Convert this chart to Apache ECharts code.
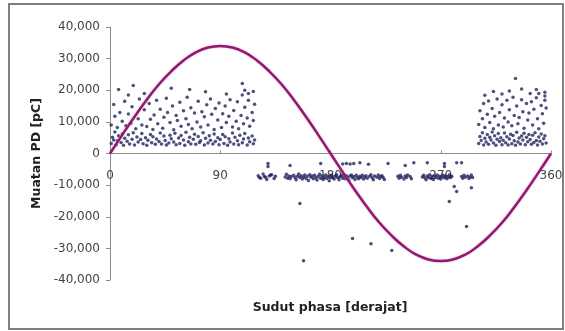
<!DOCTYPE html>
<html><head><meta charset="utf-8">
<script src="https://cdn.jsdelivr.net/npm/echarts@6/dist/echarts.min.js"></script>
<style>html,body{margin:0;padding:0;background:#fff}#c{width:565px;height:331px}</style>
</head><body><div id="c"></div>
<script>
// Phase-resolved PD pulses: [phase (deg), charge (pC)]
const pdCluster1 = [
[1,3200],[2,5100],[3,4300],[4,6800],[5,2800],[6,4000],[7,5600],[9,3500],[10,6200],[11,2600],[12,4800],[14,3900],[15,5900],[16,3000],[18,4500],[19,6600],[20,2700],[22,5200],[23,3600],[25,4400],[26,6300],[27,3100],[29,5000],[30,2600],[31,4200],[33,6000],[34,3400],[35,5300],[37,2900],[38,4600],[40,3800],[41,6500],[42,3000],[44,5500],[45,4100],[46,2700],[48,3300],[49,5800],[50,4700],[52,3600],[53,6400],[54,2800],[56,4900],[57,3200],[58,5700],[60,4300],[61,2600],[62,6700],[64,3700],[65,5100],[66,3000],[68,4500],[69,6100],[70,2900],[72,5400],[73,3500],[74,4000],[76,6600],[77,2700],[78,4800],[80,3300],[81,5600],[82,4200],[84,3000],[85,6200],[86,3800],[88,5000],[89,2800],[90,4400],[92,6000],[93,3200],[94,5300],[96,2600],[97,4700],[98,3600],[100,6500],[101,3000],[102,5100],[104,4000],[105,2800],[106,5800],[108,3400],[109,4600],[110,6300],[112,2700],[113,4900],[114,3700],[116,5500],[117,3100],[118,4300],
[1,9000],[3,15500],[4,11800],[6,8200],[8,13000],[10,10200],[12,16500],[13,8800],[15,12500],[17,9600],[18,14800],[21,7800],[23,11000],[24,17200],[26,9000],[28,13800],[30,8500],[32,15800],[33,10800],[35,7600],[36,12200],[38,16800],[39,9400],[41,14000],[43,8000],[44,11500],[46,17500],[47,13000],[49,9800],[51,15000],[52,7500],[54,12000],[55,10400],[57,16200],[58,8600],[60,13500],[62,11000],[63,17800],[64,9200],[66,14500],[67,7800],[69,12800],[71,10000],[72,16500],[74,8400],[75,13200],[77,11600],[79,15400],[80,9000],[82,17200],[83,12400],[85,7600],[86,14200],[88,10600],[89,16000],[91,8200],[92,12600],[94,15000],[95,9800],[97,11800],[98,17000],[100,8400],[101,13600],[103,10200],[104,16400],[105,7800],[107,12000],[108,18500],[109,9400],[110,14600],[112,11200],[113,16800],[114,8600],[116,13000],[117,10400],[118,15600],
[7,20200],[19,21500],[15,18500],[28,19000],[50,20600],[65,20200],[78,19500],[95,18800],[108,22100],[110,20000],[113,19000],[117,19600]
];
const pdNegative = [
[121,-7000],[122,-7600],[123,-7800],[125,-6500],[126,-7300],[127,-7500],[128,-8200],[129,-3200],[129,-4100],[130,-7100],[131,-6800],[132,-6700],[134,-7900],[135,-7200],
[143,-7400],[144,-6600],[145,-7800],[146,-7100],[147,-3800],[147,-8000],[148,-7300],[150,-6900],[151,-7700],[152,-8300],[153,-7200],[154,-6500],[155,-7600],[156,-7000],[157,-8100],[158,-7400],[159,-6800],[160,-7900],[161,-7200],[162,-8500],[163,-6700],[164,-7500],[165,-7100],[166,-8000],[167,-6900],[168,-7700],[169,-8400],[170,-7300],[171,-6600],[172,-3200],[172,-7800],[173,-7000],[174,-8200],[175,-7500],[176,-6800],[177,-7900],[178,-7200],[179,-8600],[180,-7400],[181,-6900],[182,-7700],[183,-8100],[184,-7100],[185,-6700],[186,-7600],[187,-8300],[188,-7300],[189,-6800],[190,-3300],[190,-7800],[191,-7200],[192,-8000],[193,-3200],[193,-7000],[194,-7500],[195,-8400],[196,-3300],[196,-7100],[197,-6800],[198,-7700],[199,-3200],[199,-7300],[200,-8200],[201,-6900],[202,-7500],[203,-8000],[204,-2900],[204,-7200],
[205,-7600],[206,-6900],[207,-8100],[208,-7400],[209,-7000],[210,-7800],[211,-3400],[212,-7200],[213,-6700],[214,-7700],[215,-8300],[216,-7100],[218,-7500],[219,-6800],[220,-7900],[221,-7300],[222,-7000],[223,-7600],[224,-8200],[227,-3200],
[235,-7200],[236,-7800],[237,-6900],[238,-7500],[240,-8100],[241,-3800],[241,-7100],[242,-7600],[243,-6800],[245,-7300],[246,-8000],[248,-2900],
[255,-7400],[256,-6900],[257,-7700],[258,-8300],[259,-2900],[259,-7100],[260,-7600],[261,-6700],[262,-7900],[263,-7300],[264,-8200],[265,-7000],[266,-7500],[267,-6800],[268,-7800],[269,-7200],[270,-8100],[271,-7400],[272,-6900],[273,-3200],[273,-4100],[273,-7700],[274,-7100],[275,-8000],[276,-7300],[277,-6800],[278,-7600],[279,-7200],
[283,-2900],[287,-2900],[287,-7300],[288,-7800],[289,-6900],[290,-7500],[292,-7100],[293,-7900],[294,-7400],[295,-6800],[296,-7600],
[155,-15800],[158,-33900],[198,-26900],[213,-28500],[230,-30700],[277,-15200],[281,-10400],[283,-12000],[295,-10800],[291,-23100]
];
const pdCluster2 = [
[301,3200],[302,5400],[303,4100],[304,6600],[305,2700],[306,4800],[307,3600],[308,6000],[309,2900],[310,5100],[311,4300],[312,6800],[313,3300],[314,5600],[315,2600],[316,4500],[317,6300],[318,3800],[319,5000],[320,2800],[321,4200],[322,6500],[323,3400],[324,5300],[325,2700],[326,4600],[327,6100],[328,3100],[329,5700],[330,4000],[331,2600],[332,6700],[333,3600],[334,4900],[335,3000],[336,5500],[337,4300],[338,6400],[339,2800],[340,5100],[341,3700],[342,6000],[343,4400],[344,2900],[345,5800],[346,3500],[347,6600],[348,4100],[349,2700],[350,5200],[351,3900],[352,6200],[353,3000],[354,4700],[355,5600],[356,3300],
[301,9200],[302,13500],[304,11000],[305,15800],[306,8200],[308,12400],[309,16600],[310,9800],[312,14200],[313,7800],[314,11800],[316,17200],[317,9000],[318,13000],[320,15400],[321,8400],[322,11200],[324,16800],[325,10000],[326,13800],[328,8800],[329,17800],[330,12000],[332,15000],[333,9400],[334,11400],[336,17000],[337,13200],[338,8000],[340,15800],[341,10600],[342,12800],[344,16400],[345,9000],[346,14000],[348,17600],[349,11000],[350,7800],[352,15200],[353,12600],[354,9600],[355,18200],[356,14400],[355,16800],[350,19000],
[306,18400],[313,19600],[320,18800],[326,19800],[331,23700],[336,20400],[343,19000],[348,20200],[355,19400]
];
// Reference sine of the test voltage, read every 10 deg (scaled to pC axis)
const sinePhase = [0,10,20,30,40,50,60,70,80,90,100,110,120,130,140,150,160,170,180,190,200,210,220,230,240,250,260,270,280,290,300,310,320,330,340,350,360];
const sineValue = [0,5900,11600,17000,21900,26000,29400,32000,33500,34000,33500,32000,29400,26000,21900,17000,11600,5900,0,-5900,-11600,-17000,-21900,-26000,-29400,-32000,-33500,-34000,-33500,-32000,-29400,-26000,-21900,-17000,-11600,-5900,0];
const xTicks = [0, 90, 180, 270, 360];
const yMin = -40000, yMax = 40000, yStep = 10000;

const chart = echarts.init(document.getElementById('c'), null, {renderer:'canvas'});
const dotStyle = {color:'#23235f'};
const font = 'DejaVu Sans';
chart.setOption({
  animation:false,
  backgroundColor:'#fff',
  title:[
    {text:'Sudut phasa [derajat]', left:330, top:301, textAlign:'center', padding:0,
      textStyle:{fontFamily:font, fontSize:12.5, fontWeight:'bold', color:'#222'}},
    {text:' ', left:9, top:4, padding:[162,277,162,277], borderColor:'#7f7f7f', borderWidth:2,
      backgroundColor:'transparent', textStyle:{fontSize:1, lineHeight:1}, z:0}
  ],
  grid:{left:110, right:14, top:27, bottom:51, outerBoundsMode:'none'},
  xAxis:{type:'value', min:0, max:360, interval:90, position:'bottom', offset:-126.5,
    axisLine:{onZero:false, lineStyle:{color:'#8c8c8c', width:1}},
    axisTick:{show:true, inside:true, length:3, lineStyle:{color:'#8c8c8c'}},
    axisLabel:{fontFamily:font, fontSize:12, color:'#444', margin:16,
      formatter:v=> xTicks.includes(v) ? String(v) : ''},
    splitLine:{show:false}},
  yAxis:{type:'value', min:yMin, max:yMax, interval:yStep,
    axisLine:{show:true, onZero:false, lineStyle:{color:'#8c8c8c', width:1}},
    axisTick:{show:true, length:4, lineStyle:{color:'#8c8c8c'}},
    axisLabel:{fontFamily:font, fontSize:12, color:'#444', margin:10},
    splitLine:{show:false},
    name:'Muatan PD [pC]', nameLocation:'middle', nameGap:62,
    nameTextStyle:{fontFamily:font, fontSize:12.5, fontWeight:'bold', color:'#222'}},
  series:[
    {type:'scatter', data:pdCluster1, symbol:'circle', symbolSize:3.5, itemStyle:dotStyle, z:2},
    {type:'scatter', data:pdNegative, symbol:'circle', symbolSize:3.5, itemStyle:dotStyle, z:2},
    {type:'scatter', data:pdCluster2, symbol:'circle', symbolSize:3.5, itemStyle:dotStyle, z:2},
    {type:'line', data:sinePhase.map((p,i)=>[p, sineValue[i]]), smooth:true, showSymbol:false, z:3,
      lineStyle:{color:'#8e1c6e', width:2.5, shadowColor:'rgba(230,110,210,0.7)', shadowBlur:2}}
  ]
});
</script></body></html>
